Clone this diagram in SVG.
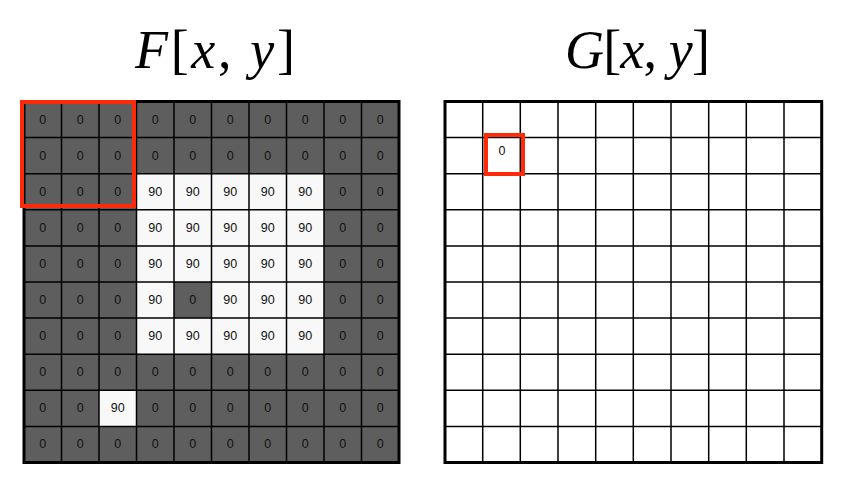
<svg xmlns="http://www.w3.org/2000/svg" width="864" height="489" viewBox="0 0 864 489">
<style>
.g{fill:#5e5e5e}
.w{fill:#f8f8f8}
.ln{stroke:#000;stroke-width:1.5;fill:none}
.bd{stroke:#000;stroke-width:3;fill:none}
.red{stroke:#ff2a0a;stroke-width:4;fill:none}
.t{font-family:"Liberation Sans",Arial,sans-serif;font-size:12.5px;fill:#111;text-anchor:middle;dominant-baseline:central}
.ti{font-family:"Liberation Serif","Times New Roman",serif;font-size:54px;fill:#000;text-anchor:middle}
.it{font-style:italic}
</style>
<text class="ti" x="215" y="68" textLength="160" lengthAdjust="spacing"><tspan class="it">F</tspan>[<tspan class="it">x</tspan>, <tspan class="it">y</tspan>]</text>
<text class="ti" x="637.5" y="68" textLength="145" lengthAdjust="spacing"><tspan class="it">G</tspan>[<tspan class="it">x</tspan>, <tspan class="it">y</tspan>]</text>
<g id="F">
<rect class="g" x="24" y="101.5" width="375" height="361"/>
<rect class="w" x="136.5" y="173.7" width="187.5" height="180.5"/>
<rect class="g" x="174" y="282" width="37.5" height="36.1"/>
<rect class="w" x="99" y="390.3" width="37.5" height="36.1"/>
<path class="ln" d="M61.5 101.5V462.5M99 101.5V462.5M136.5 101.5V462.5M174 101.5V462.5M211.5 101.5V462.5M249 101.5V462.5M286.5 101.5V462.5M324 101.5V462.5M361.5 101.5V462.5M24 137.6H399M24 173.7H399M24 209.8H399M24 245.9H399M24 282H399M24 318.1H399M24 354.2H399M24 390.3H399M24 426.4H399"/>
<rect class="bd" x="24" y="101.5" width="375" height="361"/>
<g class="t">
<text x="42.8" y="119.5">0</text><text x="80.3" y="119.5">0</text><text x="117.8" y="119.5">0</text><text x="155.3" y="119.5">0</text><text x="192.8" y="119.5">0</text><text x="230.3" y="119.5">0</text><text x="267.8" y="119.5">0</text><text x="305.3" y="119.5">0</text><text x="342.8" y="119.5">0</text><text x="380.3" y="119.5">0</text>
<text x="42.8" y="155.6">0</text><text x="80.3" y="155.6">0</text><text x="117.8" y="155.6">0</text><text x="155.3" y="155.6">0</text><text x="192.8" y="155.6">0</text><text x="230.3" y="155.6">0</text><text x="267.8" y="155.6">0</text><text x="305.3" y="155.6">0</text><text x="342.8" y="155.6">0</text><text x="380.3" y="155.6">0</text>
<text x="42.8" y="191.7">0</text><text x="80.3" y="191.7">0</text><text x="117.8" y="191.7">0</text><text x="155.3" y="191.7">90</text><text x="192.8" y="191.7">90</text><text x="230.3" y="191.7">90</text><text x="267.8" y="191.7">90</text><text x="305.3" y="191.7">90</text><text x="342.8" y="191.7">0</text><text x="380.3" y="191.7">0</text>
<text x="42.8" y="227.8">0</text><text x="80.3" y="227.8">0</text><text x="117.8" y="227.8">0</text><text x="155.3" y="227.8">90</text><text x="192.8" y="227.8">90</text><text x="230.3" y="227.8">90</text><text x="267.8" y="227.8">90</text><text x="305.3" y="227.8">90</text><text x="342.8" y="227.8">0</text><text x="380.3" y="227.8">0</text>
<text x="42.8" y="263.9">0</text><text x="80.3" y="263.9">0</text><text x="117.8" y="263.9">0</text><text x="155.3" y="263.9">90</text><text x="192.8" y="263.9">90</text><text x="230.3" y="263.9">90</text><text x="267.8" y="263.9">90</text><text x="305.3" y="263.9">90</text><text x="342.8" y="263.9">0</text><text x="380.3" y="263.9">0</text>
<text x="42.8" y="300">0</text><text x="80.3" y="300">0</text><text x="117.8" y="300">0</text><text x="155.3" y="300">90</text><text x="192.8" y="300">0</text><text x="230.3" y="300">90</text><text x="267.8" y="300">90</text><text x="305.3" y="300">90</text><text x="342.8" y="300">0</text><text x="380.3" y="300">0</text>
<text x="42.8" y="336.1">0</text><text x="80.3" y="336.1">0</text><text x="117.8" y="336.1">0</text><text x="155.3" y="336.1">90</text><text x="192.8" y="336.1">90</text><text x="230.3" y="336.1">90</text><text x="267.8" y="336.1">90</text><text x="305.3" y="336.1">90</text><text x="342.8" y="336.1">0</text><text x="380.3" y="336.1">0</text>
<text x="42.8" y="372.2">0</text><text x="80.3" y="372.2">0</text><text x="117.8" y="372.2">0</text><text x="155.3" y="372.2">0</text><text x="192.8" y="372.2">0</text><text x="230.3" y="372.2">0</text><text x="267.8" y="372.2">0</text><text x="305.3" y="372.2">0</text><text x="342.8" y="372.2">0</text><text x="380.3" y="372.2">0</text>
<text x="42.8" y="408.3">0</text><text x="80.3" y="408.3">0</text><text x="117.8" y="408.3">90</text><text x="155.3" y="408.3">0</text><text x="192.8" y="408.3">0</text><text x="230.3" y="408.3">0</text><text x="267.8" y="408.3">0</text><text x="305.3" y="408.3">0</text><text x="342.8" y="408.3">0</text><text x="380.3" y="408.3">0</text>
<text x="42.8" y="444.4">0</text><text x="80.3" y="444.4">0</text><text x="117.8" y="444.4">0</text><text x="155.3" y="444.4">0</text><text x="192.8" y="444.4">0</text><text x="230.3" y="444.4">0</text><text x="267.8" y="444.4">0</text><text x="305.3" y="444.4">0</text><text x="342.8" y="444.4">0</text><text x="380.3" y="444.4">0</text>
</g>
<rect class="red" x="22" y="102" width="112" height="104"/>
</g>
<g id="G">
<rect x="445" y="101.5" width="376.7" height="361" fill="#fff"/>
<path class="ln" d="M482.7 101.5V462.5M520.3 101.5V462.5M558 101.5V462.5M595.7 101.5V462.5M633.3 101.5V462.5M671 101.5V462.5M708.7 101.5V462.5M746.3 101.5V462.5M784 101.5V462.5M445 137.6H821.7M445 173.7H821.7M445 209.8H821.7M445 245.9H821.7M445 282H821.7M445 318.1H821.7M445 354.2H821.7M445 390.3H821.7M445 426.4H821.7"/>
<rect class="bd" x="445" y="101.5" width="376.7" height="361"/>
<text class="t" x="502" y="151">0</text>
<rect class="red" x="486" y="135" width="37" height="39"/>
</g>
</svg>
